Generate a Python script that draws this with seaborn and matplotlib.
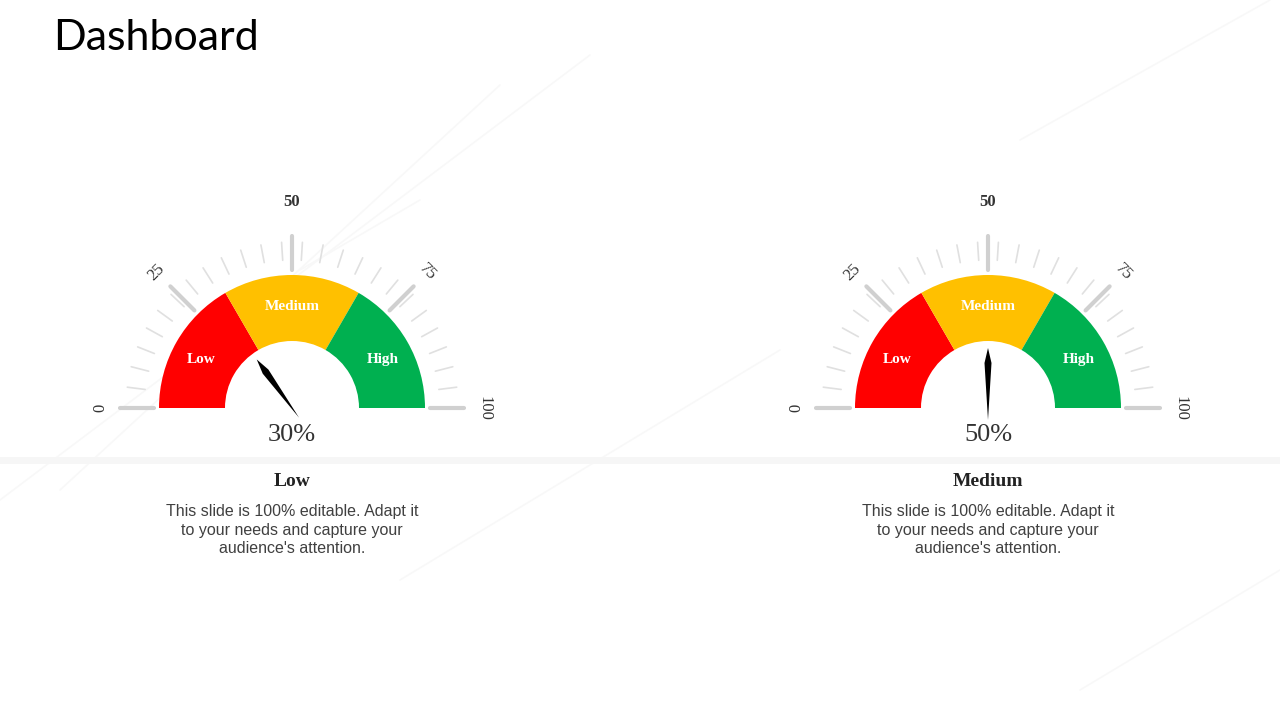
import numpy as np
import matplotlib
matplotlib.use("Agg")
import matplotlib.pyplot as plt
from matplotlib.patches import Wedge, Polygon
import seaborn as sns

# gauge data
gauge_titles = ["Low", "Medium"]
gauge_values = [30, 50]
zone_names = ["Low", "Medium", "High"]
zone_bounds = [0, 33.3, 66.7, 100]
zone_colors = ["#ff0000", "#ffc000", "#00b050"]
tick_labels = [0, 25, 50, 75, 100]
body_text = "This slide is 100% editable. Adapt it\nto your needs and capture your\naudience's attention."

centers = [(292, 408), (988, 408)]
R_OUT, R_IN = 133, 67

sns.set_theme(style="white")
fig = plt.figure(figsize=(12.8, 7.2), dpi=100)
ax = fig.add_axes([0, 0, 1, 1])
ax.set_xlim(0, 1280)
ax.set_ylim(720, 0)
ax.set_aspect("equal")
ax.axis("off")


def ang(v):
    return np.radians(180 - v * 1.8)


# faint background decoration
for x0, y0, x1, y1 in [(0, 500, 590, 55), (60, 490, 500, 85), (400, 580, 780, 350),
                       (1020, 140, 1270, 0), (1080, 690, 1280, 570), (300, 270, 420, 200)]:
    ax.plot([x0, x1], [y0, y1], color="#f8f8f8", lw=1.2, zorder=0)
ax.axhline(460, color="#f6f6f6", lw=5, zorder=0)

for (cx, cy), title, val in zip(centers, gauge_titles, gauge_values):
    # minor ticks
    for t in range(0, 101, 4):
        a = ang(t)
        ax.plot([cx + 148 * np.cos(a), cx + 166 * np.cos(a)],
                [cy - 148 * np.sin(a), cy - 166 * np.sin(a)], color="#e0e0e0", lw=1.2, zorder=1)
    # major ticks and labels
    for t in tick_labels:
        a = ang(t)
        ax.plot([cx + 138 * np.cos(a), cx + 172 * np.cos(a)],
                [cy - 138 * np.sin(a), cy - 172 * np.sin(a)], color="#d0d0d0", lw=3, zorder=1)
        rl = 192 if t != 50 else 206
        ax.text(cx + rl * np.cos(a), cy - rl * np.sin(a), str(t), rotation=90 - t * 1.8,
                ha="center", va="center", fontsize=12, fontfamily="Liberation Serif",
                fontweight="bold" if t == 50 else "normal", color="#333333")
    # coloured zones (y axis is inverted, so angles are mirrored)
    for name, lo, hi, col in zip(zone_names, zone_bounds[:-1], zone_bounds[1:], zone_colors):
        ax.add_patch(Wedge((cx, cy), R_OUT, lo * 1.8 - 180, hi * 1.8 - 180,
                           width=R_OUT - R_IN, facecolor=col, edgecolor="none", zorder=2))
        mid = ang((lo + hi) / 2)
        rm = (R_OUT + R_IN) / 2 + 5
        ax.text(cx + rm * np.cos(mid), cy - rm * np.sin(mid) + 4, name, ha="center", va="center",
                fontsize=11, fontfamily="Liberation Serif", fontweight="bold", color="white", zorder=3)
    # needle
    a = ang(val)
    perp = np.array([np.sin(a), np.cos(a)])
    p_tip = np.array([cx + 60 * np.cos(a), cy - 60 * np.sin(a)])
    p_mid = np.array([cx + 45 * np.cos(a), cy - 45 * np.sin(a)])
    p_base = np.array([cx - 12 * np.cos(a), cy + 12 * np.sin(a)])
    ax.add_patch(Polygon([p_tip, p_mid + perp * 3.5, p_base, p_mid - perp * 3.5],
                         facecolor="black", edgecolor="none", zorder=4))
    ax.text(cx, cy + 27, f"{val}%", ha="center", va="center", fontsize=19,
            fontfamily="Liberation Serif", color="#333333")
    ax.text(cx, cy + 74, title, ha="center", va="center", fontsize=14,
            fontfamily="Liberation Serif", fontweight="bold", color="#222222")
    ax.text(cx, cy + 122, body_text, ha="center", va="center", fontsize=11.5,
            fontfamily="Liberation Sans", color="#404040", linespacing=1.3)

ax.text(53, 38, "Dashboard", ha="left", va="center", fontsize=31,
        fontfamily="Lato", color="black")

fig.savefig("out.png", dpi=100)
